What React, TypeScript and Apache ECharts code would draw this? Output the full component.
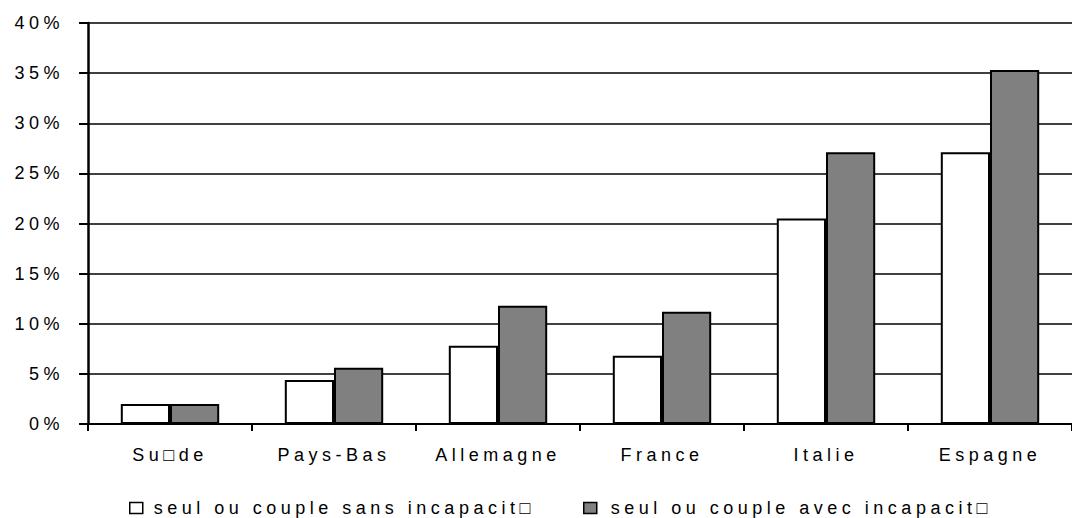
import React, { useEffect, useRef } from "react";
import * as echarts from "echarts";

const categories = ["Su\u25A1de", "Pays-Bas", "Allemagne", "France", "Italie", "Espagne"];
const seriesNames = ["seul ou couple sans incapacit\u25A1", "seul ou couple avec incapacit\u25A1"];
const sansIncapacite = [2.0, 4.4, 7.8, 6.8, 20.5, 27.1];
const avecIncapacite = [2.0, 5.6, 11.8, 11.2, 27.1, 35.3];
const yMin = 0;
const yMax = 40;
const yInterval = 5;

export default function App() {
  const ref = useRef<HTMLDivElement>(null);
  useEffect(() => {
    document.body.style.margin = "0";
    const style = document.createElement("style");
    style.textContent = "#chart-box text { letter-spacing: 4.5px; }";
    document.head.appendChild(style);
    const chart = echarts.init(ref.current!, null, { renderer: "svg" });
    const font = { fontFamily: "Liberation Sans, Arial, sans-serif", fontSize: 18, color: "#000" };
    chart.setOption({
      animation: false,
      backgroundColor: "#fff",
      grid: { left: 88, right: 0, top: 23, bottom: 94, containLabel: false },
      legend: [
        {
          data: [seriesNames[0]],
          left: 124,
          top: 494,
          padding: 5,
          itemWidth: 13,
          itemHeight: 11,
          icon: "rect",
          itemStyle: { borderColor: "#000", borderWidth: 1.5 },
          textStyle: { ...font, padding: [0, 0, 0, 6] },
        },
        {
          data: [seriesNames[1]],
          left: 578,
          top: 494,
          padding: 5,
          itemWidth: 13,
          itemHeight: 11,
          icon: "rect",
          itemStyle: { borderColor: "#000", borderWidth: 1.5 },
          textStyle: { ...font, padding: [0, 0, 0, 9] },
        },
      ],
      xAxis: {
        type: "category",
        data: categories,
        axisLine: { show: true, lineStyle: { color: "#000", width: 2 } },
        axisTick: { show: true, alignWithLabel: false, length: 7, lineStyle: { color: "#000", width: 2 } },
        axisLabel: { ...font, margin: 22, interval: 0 },
        splitLine: { show: false },
      },
      yAxis: {
        type: "value",
        min: yMin,
        max: yMax,
        interval: yInterval,
        axisLine: { show: true, lineStyle: { color: "#000", width: 2.5 } },
        axisTick: { show: true, length: 9, lineStyle: { color: "#000", width: 2 } },
        axisLabel: { ...font, margin: 24, formatter: "{value}%" },
        splitLine: { show: true, lineStyle: { color: "#000", width: 1.6 } },
      },
      series: [
        {
          name: seriesNames[0],
          type: "bar",
          data: sansIncapacite,
          barGap: "0%",
          barCategoryGap: "40%",
          itemStyle: { color: "#fff", borderColor: "#000", borderWidth: 2 },
        },
        {
          name: seriesNames[1],
          type: "bar",
          data: avecIncapacite,
          barGap: "0%",
          barCategoryGap: "40%",
          itemStyle: { color: "#808080", borderColor: "#000", borderWidth: 2 },
        },
      ],
    });
    return () => {
      chart.dispose();
      style.remove();
    };
  }, []);
  return <div id="chart-box" ref={ref} style={{ width: 1072, height: 518 }} />;
}
